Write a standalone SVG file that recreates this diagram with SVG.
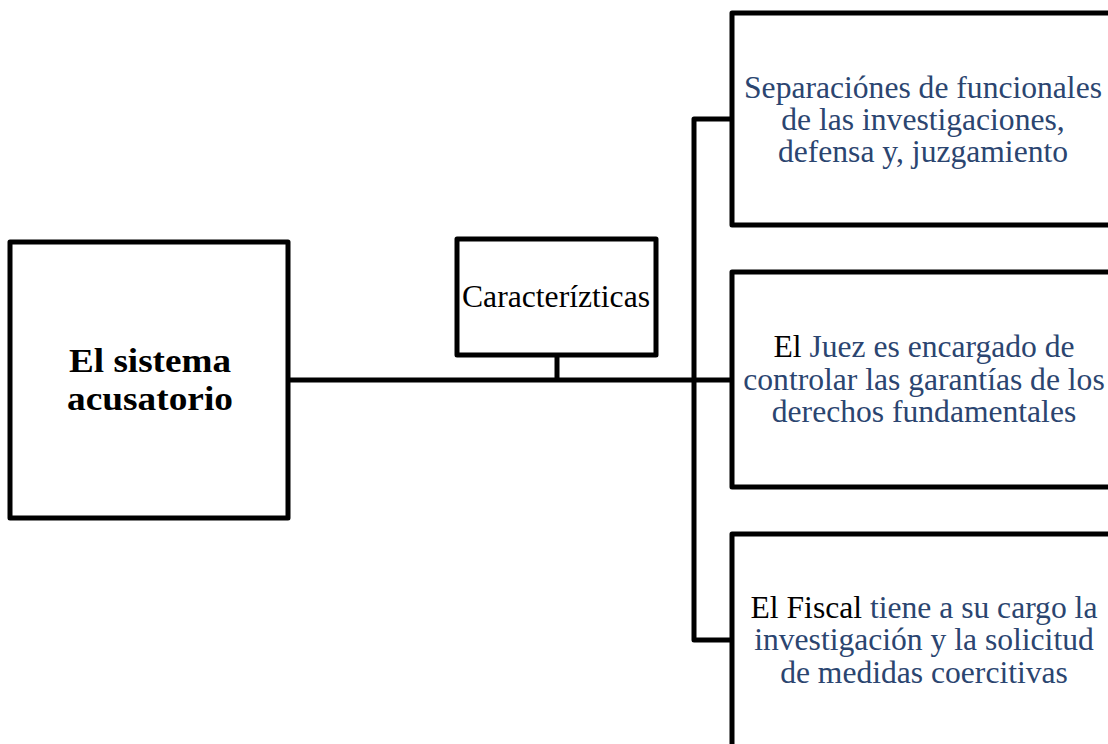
<svg xmlns="http://www.w3.org/2000/svg" width="1108" height="744" viewBox="0 0 1108 744">
<style>
.box{fill:#fff;stroke:#000;stroke-width:5;stroke-linejoin:round}
.ln{fill:none;stroke:#000;stroke-width:5;stroke-linejoin:round}
.t{font-family:"Liberation Serif","Times New Roman",serif;font-size:31.6px;text-anchor:middle;fill:#2b4570}
.k{fill:#000}
.c{font-size:32px}
.b{font-family:"Liberation Serif","Times New Roman",serif;font-size:34px;font-weight:bold;text-anchor:middle;fill:#000}
</style>
<rect width="1108" height="744" fill="#fff"/>
<g id="connectors">
<line class="ln" x1="288" y1="380" x2="732" y2="380"/>
<line class="ln" x1="557" y1="355" x2="557" y2="380"/>
<polyline class="ln" points="732,119 694,119 694,640 732,640"/>
</g>
<g id="node-sistema">
<rect class="box" x="10" y="242" width="278" height="276"/>
<text class="b" x="150" y="372" textLength="162" lengthAdjust="spacingAndGlyphs">El sistema</text>
<text class="b" x="150" y="410" textLength="166" lengthAdjust="spacingAndGlyphs">acusatorio</text>
</g>
<g id="node-caracteristicas">
<rect class="box" x="457" y="239" width="199" height="116"/>
<text class="t k c" x="556" y="307" textLength="188" lengthAdjust="spacingAndGlyphs">Caracterízticas</text>
</g>
<g id="node-separaciones">
<rect class="box" x="732" y="13" width="390" height="212"/>
<text class="t" x="923" y="98">Separaciónes de funcionales</text>
<text class="t" x="923" y="130">de las investigaciones,</text>
<text class="t" x="923" y="162">defensa y, juzgamiento</text>
</g>
<g id="node-juez">
<rect class="box" x="732" y="272" width="390" height="215"/>
<text class="t" x="924" y="357"><tspan class="k">El</tspan> Juez es encargado de</text>
<text class="t" x="924" y="390">controlar las garantías de los</text>
<text class="t" x="924" y="422">derechos fundamentales</text>
</g>
<g id="node-fiscal">
<rect class="box" x="732" y="534" width="390" height="230"/>
<text class="t" x="924" y="618"><tspan class="k">El Fiscal</tspan> tiene a su cargo la</text>
<text class="t" x="924" y="650">investigación y la solicitud</text>
<text class="t" x="924" y="683">de medidas coercitivas</text>
</g>
</svg>
